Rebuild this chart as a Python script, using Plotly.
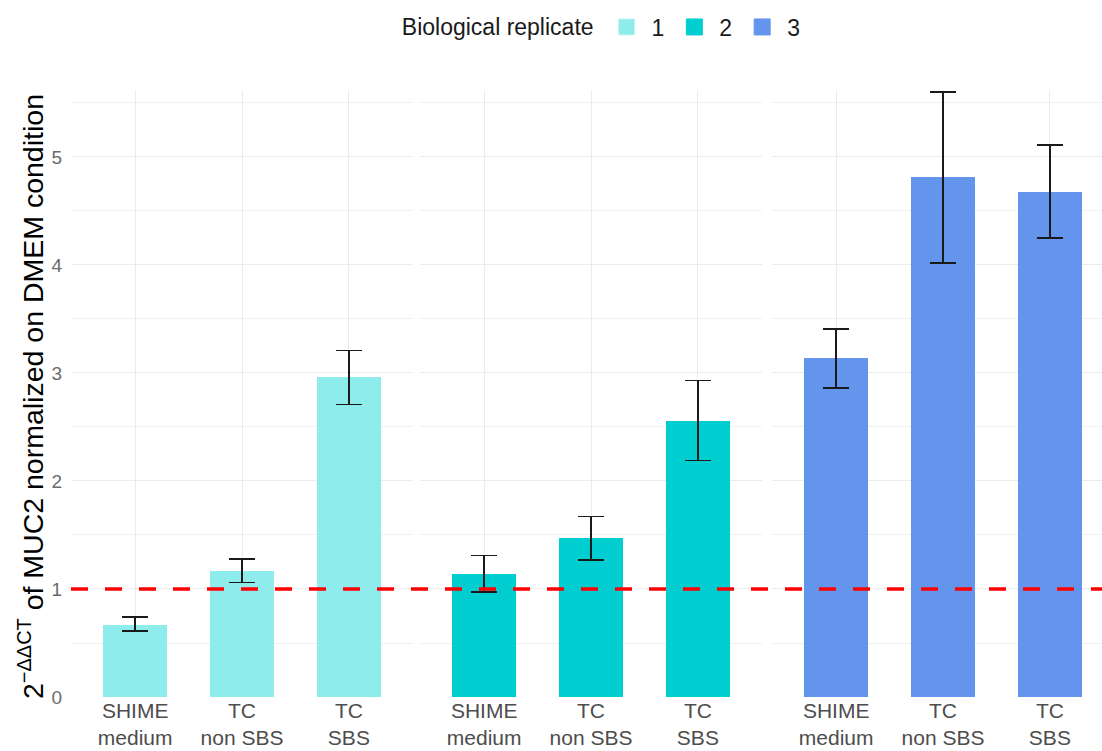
import plotly.graph_objects as go

categories = ["SHIME<br>medium", "TC<br>non SBS", "TC<br>SBS"]
replicates = ["1", "2", "3"]
colors = ["#8EEDEC", "#00CED1", "#6495ED"]

means_rep1 = [0.67, 1.17, 2.96]
upper_rep1 = [0.74, 1.28, 3.21]
lower_rep1 = [0.61, 1.06, 2.71]

means_rep2 = [1.14, 1.47, 2.56]
upper_rep2 = [1.31, 1.67, 2.93]
lower_rep2 = [0.97, 1.27, 2.19]

means_rep3 = [3.14, 4.81, 4.68]
upper_rep3 = [3.41, 5.60, 5.11]
lower_rep3 = [2.86, 4.02, 4.25]

reference_level = 1.0

W, H = 1102, 751
FONT = "Liberation Sans, Arial, sans-serif"

means = [means_rep1, means_rep2, means_rep3]
uppers = [upper_rep1, upper_rep2, upper_rep3]
lowers = [lower_rep1, lower_rep2, lower_rep3]

# panel pixel extents
panels_px = [(71, 413), (420, 762), (772, 1102)]
unit_px = 342 / 3.2
x_ranges = [[0.4, 3.6], [0.4, 3.6], [0.4, 0.4 + (1102 - 772) / unit_px]]

y_top_px, y_bot_px = 90, 697
ydom = [(H - y_bot_px) / H, (H - y_top_px) / H]
yrange = [0, 5.62]

fig = go.Figure()
xs = [1, 2, 3]
for i in range(3):
    m = means[i]
    ep = [u - v for u, v in zip(uppers[i], m)]
    em = [v - l for v, l in zip(m, lowers[i])]
    sfx = "" if i == 0 else str(i + 1)
    fig.add_trace(go.Bar(
        x=xs, y=m, width=0.6, name=replicates[i],
        marker=dict(color=colors[i], line=dict(width=0)),
        error_y=dict(type="data", symmetric=False, array=ep, arrayminus=em,
                     color="#1a1a1a", thickness=1.6, width=13),
        xaxis="x" + sfx, yaxis="y" + sfx, showlegend=False,
    ))
for i in range(3):
    sfx = "" if i == 0 else str(i + 1)
    fig.add_trace(go.Scatter(
        x=[None], y=[None], mode="markers", name=replicates[i],
        marker=dict(symbol="square", size=25, color=colors[i],
                    line=dict(width=1, color="#C8F4F4" if i == 0 else colors[i])),
        xaxis="x" + sfx, yaxis="y" + sfx, showlegend=True,
    ))

layout = dict(
    width=W, height=H,
    margin=dict(l=0, r=0, t=0, b=0, autoexpand=False),
    paper_bgcolor="white", plot_bgcolor="white",
    font=dict(family=FONT, color="#1a1a1a"),
    bargap=0,
    legend=dict(orientation="h", x=0.547, xanchor="center", y=1 - 27 / H, yanchor="middle",
                title=dict(text="Biological replicate", side="left", font=dict(size=23, color="#1a1a1a")),
                font=dict(size=23, color="#1a1a1a"), itemwidth=40, traceorder="normal",
                itemsizing="trace"),
)
for i in range(3):
    sfx = "" if i == 0 else str(i + 1)
    a, b = panels_px[i]
    layout["xaxis" + sfx] = dict(
        domain=[a / W, b / W], range=x_ranges[i], anchor="y" + sfx, automargin=False,
        tickvals=xs, ticktext=categories, showgrid=True, gridcolor="#EBEBEB", gridwidth=1.3,
        zeroline=False, showline=False, ticks="", fixedrange=True,
        tickfont=dict(size=21, color="#4D4D4D", family=FONT), ticklabelstandoff=-1,
    )
    layout["yaxis" + sfx] = dict(
        domain=ydom, range=yrange, anchor="x" + sfx, automargin=False,
        tickvals=[0, 1, 2, 3, 4, 5], showgrid=True, gridcolor="#EBEBEB", gridwidth=1.3,
        minor=dict(tickvals=[0.5, 1.5, 2.5, 3.5, 4.5, 5.5], showgrid=True, gridcolor="#F0F0F0", gridwidth=1),
        zeroline=False, showline=False, ticks="", showticklabels=(i == 0),
        tickfont=dict(size=19, color="#6B6B6B", family=FONT), ticklabelstandoff=8,
    )
fig.update_layout(**layout)

fig.add_shape(type="line", xref="paper", yref="y", x0=71 / W, x1=1.0,
              y0=reference_level, y1=reference_level,
              line=dict(color="#FF0000", width=3.5, dash="17px,17px"), layer="above")

fig.add_annotation(
    text="2<sup>\u2212\u0394\u0394CT</sup> of MUC2 normalized on DMEM condition",
    xref="paper", yref="paper", x=31 / W, y=(H - 397) / H,
    textangle=-90, showarrow=False, xanchor="center", yanchor="middle",
    font=dict(size=28.5, color="#000000", family=FONT),
)

fig.write_html("out.html")
